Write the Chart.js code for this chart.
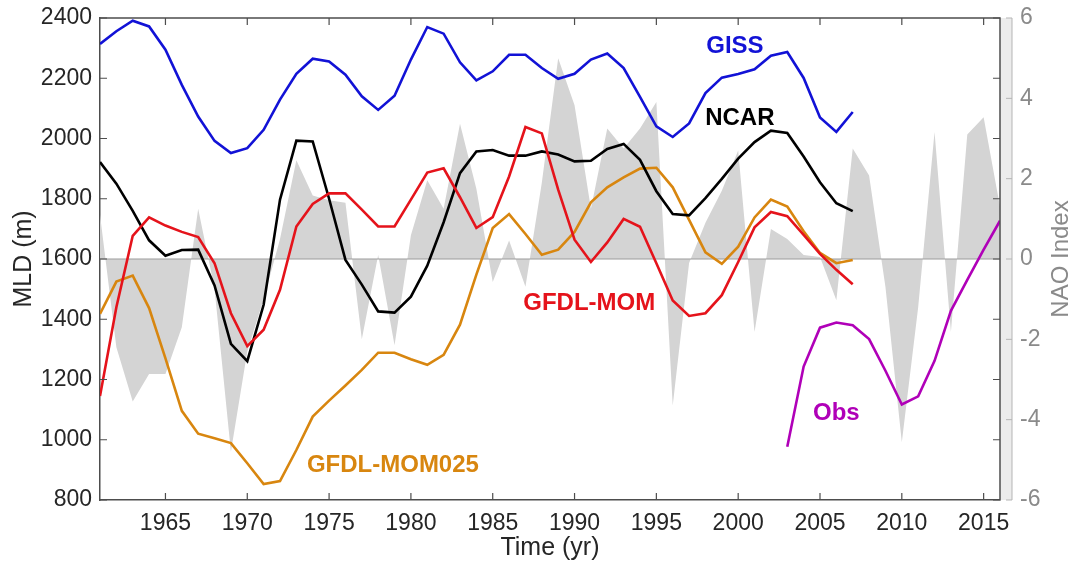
<!DOCTYPE html>
<html>
<head>
<meta charset="utf-8">
<script src="https://cdn.jsdelivr.net/npm/chart.js@4.4.1/dist/chart.umd.min.js"></script>
<style>
  html, body { margin: 0; padding: 0; background: #fff; }
  #wrap { width: 1075px; height: 575px; }
</style>
</head>
<body>
<div id="wrap"><canvas id="c" width="1075" height="575"></canvas></div>
<script>
// years
const modelYears = [1961,1962,1963,1964,1965,1966,1967,1968,1969,1970,1971,1972,1973,1974,1975,1976,1977,1978,1979,1980,
  1981,1982,1983,1984,1985,1986,1987,1988,1989,1990,1991,1992,1993,1994,1995,1996,1997,1998,1999,2000,
  2001,2002,2003,2004,2005,2006,2007];
const obsYears = [2003,2004,2005,2006,2007,2008,2009,2010,2011,2012,2013,2014,2015,2016];
const naoYears = [1961,1962,1963,1964,1965,1966,1967,1968,1969,1970,1971,1972,1973,1974,1975,1976,1977,1978,1979,1980,
  1981,1982,1983,1984,1985,1986,1987,1988,1989,1990,1991,1992,1993,1994,1995,1996,1997,1998,1999,2000,
  2001,2002,2003,2004,2005,2006,2007,2008,2009,2010,2011,2012,2013,2014,2015,2016];

// MLD (m)
const giss = [2314,2356,2391,2372,2295,2178,2073,1992,1952,1968,2029,2129,2215,2265,2256,2212,2140,2095,2142,2262,
  2370,2348,2253,2193,2223,2278,2278,2234,2198,2215,2262,2282,2234,2138,2040,2005,2050,2151,2202,2214,
  2230,2275,2287,2201,2070,2022,2088];
const ncar = [1922,1850,1760,1662,1611,1630,1631,1512,1318,1261,1448,1797,1993,1990,1800,1597,1515,1426,1422,1475,
  1578,1722,1885,1957,1962,1943,1943,1957,1947,1924,1926,1965,1982,1929,1825,1749,1745,1802,1866,1933,
  1988,2026,2018,1940,1855,1785,1759];
const gfdlMom = [1145,1440,1677,1738,1711,1690,1673,1586,1420,1311,1365,1498,1708,1783,1818,1818,1764,1708,1708,1797,
  1887,1901,1805,1703,1739,1874,2038,2017,1830,1664,1590,1655,1733,1707,1586,1462,1411,1420,1480,1590,
  1705,1756,1742,1680,1617,1564,1516];
const gfdlMom025 = [1418,1525,1545,1437,1270,1096,1020,1005,989,922,853,863,966,1077,1130,1180,1232,1289,1289,1267,
  1249,1282,1382,1548,1703,1749,1683,1614,1631,1690,1788,1838,1871,1900,1903,1838,1730,1622,1584,1641,
  1738,1797,1774,1692,1620,1586,1597];
const obs = [977,1243,1372,1389,1380,1334,1229,1117,1144,1262,1428,1531,1631,1727];

// NAO index
const nao = [1.1,-2.2,-3.55,-2.86,-2.86,-1.7,1.25,-0.74,-4.8,-2.3,-1.0,0.5,2.46,1.58,1.46,1.4,-2.0,0.1,-2.15,0.59,
  1.96,1.25,3.37,1.75,-0.57,0.46,-0.69,1.9,5.0,3.83,1.25,3.25,2.75,3.25,3.91,-3.65,-0.1,0.9,1.7,2.7,
  -1.82,0.75,0.5,0.1,0.05,-1.03,2.75,2.08,-0.7,-4.56,-1.2,3.16,-1.82,3.1,3.53,1.3];

const xTicks = [1965,1970,1975,1980,1985,1990,1995,2000,2005,2010,2015];
const zeroYears = [1961, 2016];
const zeroVals = [0, 0];

const pts = (xs, ys) => xs.map((x, i) => ({x: x, y: ys[i]}));

const FONT = "'Liberation Sans', Arial, Helvetica, sans-serif";
const AXIS = '#4d4d4d';

// text labels next to the curves, in data units
const curveLabels = [
  {text: 'GISS', year: 1999.8, mld: 2305, color: '#1212d6'},
  {text: 'NCAR', year: 2000.1, mld: 2066, color: '#000000'},
  {text: 'GFDL-MOM', year: 1990.9, mld: 1454, color: '#e5131b'},
  {text: 'GFDL-MOM025', year: 1978.9, mld: 916, color: '#d8860f'},
  {text: 'Obs', year: 2006.0, mld: 1089, color: '#b000b8'}
];

const noPad = s => { s.paddingTop = 0; s.paddingBottom = 0; s.paddingLeft = 0; s.paddingRight = 0; };

const decor = {
  id: 'decor',
  afterDatasetsDraw(chart) {
    const {ctx, chartArea: a, scales} = chart;
    const x = scales.x, y = scales.y, y1 = scales.y1;
    ctx.save();
    // band for the NAO axis
    ctx.fillStyle = '#ececec';
    ctx.fillRect(a.right, a.top, 12, a.bottom - a.top);
    ctx.strokeStyle = '#b5b5b5';
    ctx.lineWidth = 1;
    ctx.beginPath();
    ctx.moveTo(a.right + 12, a.top);
    ctx.lineTo(a.right + 12, a.bottom);
    ctx.stroke();
    // NAO ticks
    y1.ticks.forEach(t => {
      const py = y1.getPixelForValue(t.value);
      ctx.beginPath();
      ctx.moveTo(a.right + 12, py);
      ctx.lineTo(a.right + 6, py);
      ctx.stroke();
    });
    // box
    ctx.strokeStyle = AXIS;
    ctx.lineWidth = 1.5;
    ctx.beginPath();
    ctx.moveTo(a.left, a.top);
    ctx.lineTo(a.right, a.top);
    ctx.lineTo(a.right, a.bottom);
    ctx.stroke();
    // inward ticks
    ctx.lineWidth = 1.2;
    ctx.beginPath();
    xTicks.forEach(v => {
      const px = x.getPixelForValue(v);
      ctx.moveTo(px, a.bottom); ctx.lineTo(px, a.bottom - 7);
      ctx.moveTo(px, a.top); ctx.lineTo(px, a.top + 7);
    });
    y.ticks.forEach(t => {
      const py = y.getPixelForValue(t.value);
      ctx.moveTo(a.left, py); ctx.lineTo(a.left + 7, py);
      ctx.moveTo(a.right, py); ctx.lineTo(a.right - 7, py);
    });
    ctx.stroke();
    // curve labels
    ctx.font = 'bold 24px ' + FONT;
    ctx.textAlign = 'center';
    ctx.textBaseline = 'middle';
    curveLabels.forEach(l => {
      ctx.fillStyle = l.color;
      ctx.fillText(l.text, x.getPixelForValue(l.year), y.getPixelForValue(l.mld));
    });
    // right axis title
    ctx.translate(1061, (a.top + a.bottom) / 2);
    ctx.rotate(-Math.PI / 2);
    ctx.fillStyle = '#8a8a8a';
    ctx.font = '24px ' + FONT;
    ctx.fillText('NAO Index', 0, 0);
    ctx.restore();
  }
};

new Chart(document.getElementById('c'), {
  type: 'line',
  data: {
    datasets: [
      {label: 'GISS', data: pts(modelYears, giss), borderColor: '#1212d6', yAxisID: 'y', order: 1},
      {label: 'NCAR', data: pts(modelYears, ncar), borderColor: '#000000', yAxisID: 'y', order: 2},
      {label: 'GFDL-MOM', data: pts(modelYears, gfdlMom), borderColor: '#e5131b', yAxisID: 'y', order: 0},
      {label: 'GFDL-MOM025', data: pts(modelYears, gfdlMom025), borderColor: '#d8860f', yAxisID: 'y', order: 3},
      {label: 'Obs', data: pts(obsYears, obs), borderColor: '#b000b8', yAxisID: 'y', order: 4},
      {label: 'zero', data: pts(zeroYears, zeroVals), borderColor: '#9c9c9c', borderWidth: 1.2, yAxisID: 'y1', order: 9},
      {label: 'NAO', data: pts(naoYears, nao), borderWidth: 0, borderColor: 'rgba(0,0,0,0)',
       backgroundColor: '#d4d4d4', fill: 'origin', yAxisID: 'y1', order: 10}
    ]
  },
  options: {
    responsive: false,
    animation: false,
    devicePixelRatio: 1,
    layout: {padding: {top: 18, right: 0, bottom: 0, left: 0}},
    elements: {
      point: {radius: 0},
      line: {tension: 0, borderWidth: 2.6, fill: false}
    },
    plugins: {legend: {display: false}, tooltip: {enabled: false}},
    scales: {
      x: {
        type: 'linear', min: 1961, max: 2016,
        afterBuildTicks: s => { s.ticks = xTicks.map(v => ({value: v})); },
        afterFit: s => { s.height = 75; noPad(s); },
        grid: {display: false, drawTicks: false},
        border: {display: true, color: AXIS, width: 1.5},
        ticks: {font: {size: 23, family: FONT}, color: '#262626', padding: 10, maxRotation: 0,
                callback: v => String(v)},
        title: {display: true, text: 'Time (yr)', font: {size: 25, family: FONT}, color: '#262626',
                padding: {top: 0, bottom: 12}}
      },
      y: {
        position: 'left', min: 800, max: 2400,
        afterFit: s => { s.width = 100; noPad(s); },
        grid: {display: false, drawTicks: false},
        border: {display: true, color: AXIS, width: 1.5},
        ticks: {stepSize: 200, font: {size: 23, family: FONT}, color: '#262626', padding: 8,
                callback: v => String(v)},
        title: {display: true, text: 'MLD (m)', font: {size: 25, family: FONT}, color: '#262626',
                padding: {top: 9, bottom: 0}}
      },
      y1: {
        position: 'right', min: -6, max: 6,
        afterFit: s => { s.width = 75; noPad(s); },
        grid: {display: false, drawTicks: false},
        border: {display: false},
        ticks: {stepSize: 2, font: {size: 23, family: FONT}, color: '#8a8a8a', padding: 20,
                callback: v => String(v)}
      }
    }
  },
  plugins: [decor]
});
</script>
</body>
</html>
